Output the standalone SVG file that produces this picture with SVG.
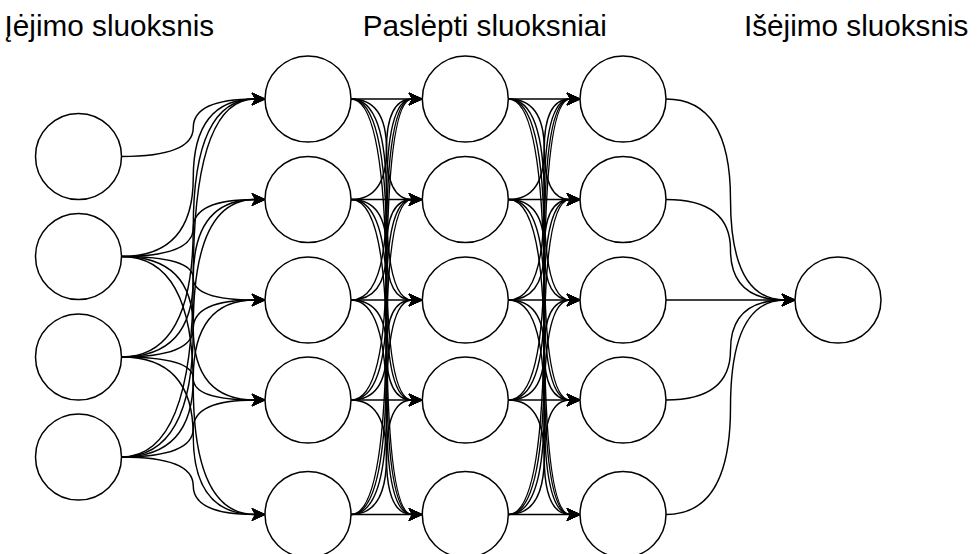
<svg xmlns="http://www.w3.org/2000/svg" width="979" height="554" viewBox="0 0 979 554">
  <style>
    .node { fill: #ffffff; stroke: #000000; stroke-width: 1.5; }
    .edges path { fill: none; stroke: #000000; stroke-width: 1.45; marker-end: url(#arrow); }
    .label { font-family: "Liberation Sans", Arial, Helvetica, sans-serif; font-size: 29.7px; fill: #000000; }
  </style>
  <defs>
    <marker id="arrow" markerUnits="userSpaceOnUse" markerWidth="30" markerHeight="30" refX="0" refY="0" orient="auto" overflow="visible">
      <path d="M10,0 L-3,-6 L0.5,0 L-3,6 Z" fill="#000000" stroke="#000000" stroke-width="1" stroke-linejoin="miter"/>
    </marker>
  </defs>
  <rect width="979" height="554" fill="#ffffff"/>

  <!-- layer titles -->
  <text class="label" x="4.6" y="36">Įėjimo sluoksnis</text>
  <text class="label" x="362.7" y="36">Paslėpti sluoksniai</text>
  <text class="label" x="744" y="36">Išėjimo sluoksnis</text>

  <!-- connectors -->
  <g id="connectors" class="edges">
    <!-- input layer to hidden layer 1 -->
    <path d="M121.5,156.5 Q193.25,156.5 193.25,127.75 Q193.25,99 255,99"/>
    <path d="M121.5,256.5 Q193.25,256.5 193.25,177.75 Q193.25,99 255,99"/>
    <path d="M121.5,256.5 Q193.25,256.5 193.25,228 Q193.25,199.5 255,199.5"/>
    <path d="M121.5,256.5 Q193.25,256.5 193.25,278.25 Q193.25,300 255,300"/>
    <path d="M121.5,256.5 Q193.25,256.5 193.25,328.25 Q193.25,400 255,400"/>
    <path d="M121.5,256.5 Q193.25,256.5 193.25,385.5 Q193.25,514.5 255,514.5"/>
    <path d="M121.5,357 Q193.25,357 193.25,228 Q193.25,99 255,99"/>
    <path d="M121.5,357 Q193.25,357 193.25,278.25 Q193.25,199.5 255,199.5"/>
    <path d="M121.5,357 Q193.25,357 193.25,328.5 Q193.25,300 255,300"/>
    <path d="M121.5,357 Q193.25,357 193.25,378.5 Q193.25,400 255,400"/>
    <path d="M121.5,357 Q193.25,357 193.25,435.75 Q193.25,514.5 255,514.5"/>
    <path d="M121.5,457 Q193.25,457 193.25,278 Q193.25,99 255,99"/>
    <path d="M121.5,457 Q193.25,457 193.25,328.25 Q193.25,199.5 255,199.5"/>
    <path d="M121.5,457 Q193.25,457 193.25,378.5 Q193.25,300 255,300"/>
    <path d="M121.5,457 Q193.25,457 193.25,428.5 Q193.25,400 255,400"/>
    <path d="M121.5,457 Q193.25,457 193.25,485.75 Q193.25,514.5 255,514.5"/>

    <!-- hidden layer 1 to hidden layer 2 -->
    <path d="M351,99 L412,99"/>
    <path d="M351,99 Q386.5,99 386.5,149.25 Q386.5,199.5 412,199.5"/>
    <path d="M351,99 Q386.5,99 386.5,199.5 Q386.5,300 412,300"/>
    <path d="M351,99 Q386.5,99 386.5,249.5 Q386.5,400 412,400"/>
    <path d="M351,99 Q386.5,99 386.5,306.75 Q386.5,514.5 412,514.5"/>
    <path d="M351,199.5 Q386.5,199.5 386.5,149.25 Q386.5,99 412,99"/>
    <path d="M351,199.5 L412,199.5"/>
    <path d="M351,199.5 Q386.5,199.5 386.5,249.75 Q386.5,300 412,300"/>
    <path d="M351,199.5 Q386.5,199.5 386.5,299.75 Q386.5,400 412,400"/>
    <path d="M351,199.5 Q386.5,199.5 386.5,357 Q386.5,514.5 412,514.5"/>
    <path d="M351,300 Q386.5,300 386.5,199.5 Q386.5,99 412,99"/>
    <path d="M351,300 Q386.5,300 386.5,249.75 Q386.5,199.5 412,199.5"/>
    <path d="M351,300 L412,300"/>
    <path d="M351,300 Q386.5,300 386.5,350 Q386.5,400 412,400"/>
    <path d="M351,300 Q386.5,300 386.5,407.25 Q386.5,514.5 412,514.5"/>
    <path d="M351,400 Q386.5,400 386.5,249.5 Q386.5,99 412,99"/>
    <path d="M351,400 Q386.5,400 386.5,299.75 Q386.5,199.5 412,199.5"/>
    <path d="M351,400 Q386.5,400 386.5,350 Q386.5,300 412,300"/>
    <path d="M351,400 L412,400"/>
    <path d="M351,400 Q386.5,400 386.5,457.25 Q386.5,514.5 412,514.5"/>
    <path d="M351,514.5 Q386.5,514.5 386.5,306.75 Q386.5,99 412,99"/>
    <path d="M351,514.5 Q386.5,514.5 386.5,357 Q386.5,199.5 412,199.5"/>
    <path d="M351,514.5 Q386.5,514.5 386.5,407.25 Q386.5,300 412,300"/>
    <path d="M351,514.5 Q386.5,514.5 386.5,457.25 Q386.5,400 412,400"/>
    <path d="M351,514.5 L412,514.5"/>

    <!-- hidden layer 2 to hidden layer 3 -->
    <path d="M508.5,99 L570,99"/>
    <path d="M508.5,99 Q544.25,99 544.25,149.25 Q544.25,199.5 570,199.5"/>
    <path d="M508.5,99 Q544.25,99 544.25,199.5 Q544.25,300 570,300"/>
    <path d="M508.5,99 Q544.25,99 544.25,249.5 Q544.25,400 570,400"/>
    <path d="M508.5,99 Q544.25,99 544.25,306.75 Q544.25,514.5 570,514.5"/>
    <path d="M508.5,199.5 Q544.25,199.5 544.25,149.25 Q544.25,99 570,99"/>
    <path d="M508.5,199.5 L570,199.5"/>
    <path d="M508.5,199.5 Q544.25,199.5 544.25,249.75 Q544.25,300 570,300"/>
    <path d="M508.5,199.5 Q544.25,199.5 544.25,299.75 Q544.25,400 570,400"/>
    <path d="M508.5,199.5 Q544.25,199.5 544.25,357 Q544.25,514.5 570,514.5"/>
    <path d="M508.5,300 Q544.25,300 544.25,199.5 Q544.25,99 570,99"/>
    <path d="M508.5,300 Q544.25,300 544.25,249.75 Q544.25,199.5 570,199.5"/>
    <path d="M508.5,300 L570,300"/>
    <path d="M508.5,300 Q544.25,300 544.25,350 Q544.25,400 570,400"/>
    <path d="M508.5,300 Q544.25,300 544.25,407.25 Q544.25,514.5 570,514.5"/>
    <path d="M508.5,400 Q544.25,400 544.25,249.5 Q544.25,99 570,99"/>
    <path d="M508.5,400 Q544.25,400 544.25,299.75 Q544.25,199.5 570,199.5"/>
    <path d="M508.5,400 Q544.25,400 544.25,350 Q544.25,300 570,300"/>
    <path d="M508.5,400 L570,400"/>
    <path d="M508.5,400 Q544.25,400 544.25,457.25 Q544.25,514.5 570,514.5"/>
    <path d="M508.5,514.5 Q544.25,514.5 544.25,306.75 Q544.25,99 570,99"/>
    <path d="M508.5,514.5 Q544.25,514.5 544.25,357 Q544.25,199.5 570,199.5"/>
    <path d="M508.5,514.5 Q544.25,514.5 544.25,407.25 Q544.25,300 570,300"/>
    <path d="M508.5,514.5 Q544.25,514.5 544.25,457.25 Q544.25,400 570,400"/>
    <path d="M508.5,514.5 L570,514.5"/>

    <!-- hidden layer 3 to output -->
    <path d="M666,99 Q730.5,99 730.5,199.5 Q730.5,300 785,300"/>
    <path d="M666,199.5 Q730.5,199.5 730.5,249.75 Q730.5,300 785,300"/>
    <path d="M666,300 L785,300"/>
    <path d="M666,400 Q730.5,400 730.5,350 Q730.5,300 785,300"/>
    <path d="M666,514.5 Q730.5,514.5 730.5,407.25 Q730.5,300 785,300"/>
  </g>

  <!-- input layer -->
  <g id="in1"><circle class="node" cx="78.5" cy="156.5" r="43"/></g>
  <g id="in2"><circle class="node" cx="78.5" cy="256.5" r="43"/></g>
  <g id="in3"><circle class="node" cx="78.5" cy="357" r="43"/></g>
  <g id="in4"><circle class="node" cx="78.5" cy="457" r="43"/></g>

  <!-- hidden layer 1 -->
  <g id="h1-1"><circle class="node" cx="308" cy="99" r="43"/></g>
  <g id="h1-2"><circle class="node" cx="308" cy="199.5" r="43"/></g>
  <g id="h1-3"><circle class="node" cx="308" cy="300" r="43"/></g>
  <g id="h1-4"><circle class="node" cx="308" cy="400" r="43"/></g>
  <g id="h1-5"><circle class="node" cx="308" cy="514.5" r="43"/></g>

  <!-- hidden layer 2 -->
  <g id="h2-1"><circle class="node" cx="465.3" cy="99" r="43"/></g>
  <g id="h2-2"><circle class="node" cx="465.3" cy="199.5" r="43"/></g>
  <g id="h2-3"><circle class="node" cx="465.3" cy="300" r="43"/></g>
  <g id="h2-4"><circle class="node" cx="465.3" cy="400" r="43"/></g>
  <g id="h2-5"><circle class="node" cx="465.3" cy="514.5" r="43"/></g>

  <!-- hidden layer 3 -->
  <g id="h3-1"><circle class="node" cx="623" cy="99" r="43"/></g>
  <g id="h3-2"><circle class="node" cx="623" cy="199.5" r="43"/></g>
  <g id="h3-3"><circle class="node" cx="623" cy="300" r="43"/></g>
  <g id="h3-4"><circle class="node" cx="623" cy="400" r="43"/></g>
  <g id="h3-5"><circle class="node" cx="623" cy="514.5" r="43"/></g>

  <!-- output layer -->
  <g id="out1"><circle class="node" cx="838" cy="300" r="43"/></g>
</svg>
